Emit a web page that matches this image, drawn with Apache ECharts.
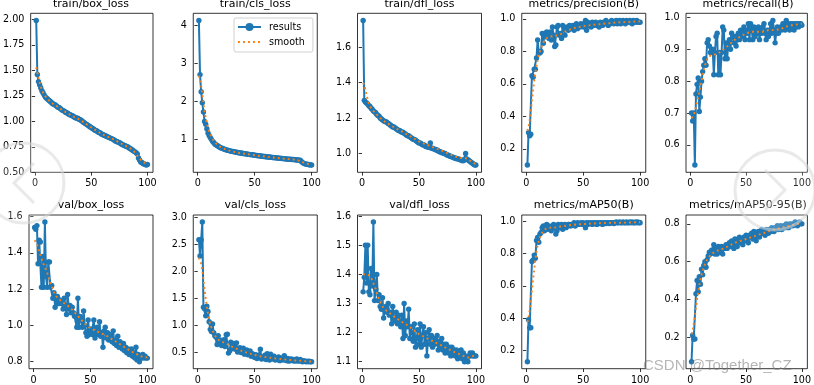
<!DOCTYPE html>
<html>
<head>
<meta charset="utf-8">
<script src="https://cdn.jsdelivr.net/npm/echarts@6/dist/echarts.min.js"></script>
<style>
html,body{margin:0;padding:0;background:#fff;}
#chart{width:814px;height:385px;}
</style>
</head>
<body>
<div id="chart"></div>
<script>
// ---------------- data ----------------
const titles = ['train/box_loss','train/cls_loss','train/dfl_loss','metrics/precision(B)','metrics/recall(B)',
                'val/box_loss','val/cls_loss','val/dfl_loss','metrics/mAP50(B)','metrics/mAP50-95(B)'];

const xTicks = [0, 50, 100];

const trainBox = [
1.99,1.46,1.39,1.36,1.33,1.30,1.28,1.26,1.24,1.23,
1.22,1.21,1.20,1.19,1.18,1.17,1.165,1.16,1.15,1.14,
1.135,1.13,1.12,1.11,1.105,1.10,1.09,1.085,1.08,1.07,
1.065,1.06,1.055,1.05,1.04,1.035,1.03,1.03,1.02,1.015,
1.01,1.00,0.99,0.985,0.975,0.97,0.96,0.955,0.945,0.94,
0.93,0.925,0.915,0.91,0.905,0.895,0.89,0.885,0.875,0.87,
0.865,0.86,0.855,0.85,0.845,0.84,0.835,0.83,0.825,0.82,
0.81,0.805,0.80,0.795,0.79,0.785,0.775,0.77,0.765,0.76,
0.755,0.75,0.745,0.735,0.73,0.72,0.715,0.705,0.70,0.69,
0.68,0.64,0.62,0.60,0.595,0.585,0.58,0.575,0.57,0.575];

const trainCls = [
4.12,2.70,2.25,1.96,1.72,1.47,1.40,1.28,1.17,1.10,
1.05,1.00,0.95,0.92,0.88,0.86,0.84,0.82,0.80,0.78,
0.77,0.76,0.745,0.735,0.725,0.715,0.71,0.70,0.69,0.685,
0.68,0.675,0.665,0.66,0.655,0.65,0.645,0.64,0.635,0.63,
0.625,0.62,0.615,0.61,0.605,0.60,0.598,0.595,0.59,0.585,
0.58,0.575,0.57,0.568,0.565,0.56,0.555,0.552,0.55,0.545,
0.54,0.538,0.535,0.53,0.528,0.525,0.52,0.518,0.515,0.51,
0.508,0.505,0.50,0.498,0.495,0.49,0.488,0.485,0.482,0.48,
0.478,0.475,0.472,0.47,0.468,0.465,0.46,0.458,0.455,0.45,
0.42,0.39,0.375,0.36,0.35,0.345,0.34,0.335,0.33,0.325];

const trainDfl = [
1.75,1.30,1.29,1.285,1.28,1.27,1.265,1.255,1.25,1.24,
1.235,1.23,1.22,1.215,1.21,1.20,1.195,1.19,1.185,1.18,
1.18,1.175,1.17,1.165,1.16,1.155,1.15,1.15,1.145,1.14,
1.135,1.13,1.13,1.125,1.12,1.12,1.115,1.11,1.105,1.10,
1.10,1.095,1.09,1.085,1.08,1.08,1.075,1.07,1.065,1.06,
1.06,1.055,1.05,1.05,1.045,1.04,1.04,1.035,1.035,1.06,
1.03,1.03,1.025,1.025,1.02,1.02,1.015,1.01,1.01,1.005,
1.005,1.00,1.00,0.995,0.99,0.99,0.985,0.985,0.98,0.98,
0.975,0.975,0.97,0.97,0.97,0.965,0.965,0.96,0.96,0.965,
1.00,0.97,0.965,0.96,0.955,0.95,0.945,0.94,0.935,0.935];

const precision = [
0.10,0.30,0.28,0.29,0.65,0.64,0.69,0.69,0.76,0.87,
0.80,0.79,0.80,0.91,0.85,0.91,0.89,0.92,0.90,0.88,
0.92,0.87,0.95,0.90,0.83,0.84,0.95,0.96,0.90,0.91,
0.88,0.96,0.95,0.90,0.94,0.95,0.93,0.96,0.95,0.94,
0.96,0.93,0.95,0.97,0.94,0.96,0.95,0.97,0.96,0.95,
0.97,0.99,0.93,0.98,0.96,0.97,0.95,0.98,0.96,0.97,
0.98,0.96,0.97,0.95,0.98,0.97,0.96,0.98,0.97,0.99,
0.97,0.96,0.98,0.97,0.99,0.98,0.97,0.98,0.99,0.97,
0.98,0.99,0.97,0.98,0.99,0.98,0.97,0.99,0.98,0.98,
0.99,0.98,0.97,0.99,0.98,0.98,0.99,0.98,0.98,0.98];

const recall = [
0.70,0.675,0.70,0.537,0.76,0.79,0.81,0.705,0.75,0.80,
0.83,0.85,0.87,0.85,0.92,0.93,0.91,0.89,0.89,0.90,
0.82,0.89,0.94,0.95,0.82,0.89,0.82,0.89,0.97,0.96,
0.87,0.92,0.87,0.92,0.93,0.90,0.95,0.94,0.92,0.94,
0.91,0.93,0.95,0.93,0.96,0.94,0.95,0.97,0.93,0.96,
0.95,0.98,0.93,0.98,0.96,0.93,0.97,0.94,0.96,0.95,
0.97,0.93,0.96,0.95,0.97,0.98,0.95,0.93,0.96,0.94,
0.96,0.98,0.95,0.99,0.96,0.92,0.95,0.97,0.95,0.96,
0.97,0.96,0.98,0.97,0.96,0.99,0.97,0.98,0.96,0.98,
0.97,0.98,0.96,0.98,0.97,0.98,0.97,0.98,0.98,0.975];

const valBox = [
1.54,1.53,1.55,1.34,1.47,1.46,1.21,1.38,1.21,1.57,
1.27,1.21,1.35,1.35,1.21,1.22,1.15,1.18,1.10,1.15,
1.16,1.12,1.14,1.13,1.12,1.09,1.15,1.11,1.06,1.17,
1.09,1.11,1.07,1.10,1.07,1.05,1.06,0.99,1.15,0.99,
1.05,1.03,0.99,1.08,1.00,0.96,0.94,1.03,0.95,0.98,
0.96,0.95,1.03,0.93,0.96,0.99,0.95,1.02,0.94,0.96,
0.88,0.97,0.99,0.93,0.96,0.92,0.95,0.93,0.91,0.97,
0.90,0.92,0.89,0.94,0.88,0.91,0.90,0.87,0.90,0.86,
0.88,0.85,0.87,0.84,0.86,0.87,0.83,0.85,0.82,0.88,
0.81,0.84,0.80,0.83,0.82,0.84,0.82,0.83,0.82,0.82];

const valCls = [
2.58,2.28,2.58,2.91,1.33,1.30,1.17,1.35,1.25,1.06,
0.92,0.88,1.02,0.86,0.80,0.78,0.64,0.80,0.65,0.72,
0.62,0.70,0.73,0.60,0.82,0.83,0.48,0.52,0.68,0.56,
0.62,0.66,0.55,0.67,0.50,0.54,0.58,0.49,0.52,0.57,
0.46,0.50,0.54,0.45,0.48,0.52,0.42,0.47,0.44,0.40,
0.45,0.38,0.43,0.42,0.55,0.37,0.41,0.38,0.44,0.36,
0.47,0.40,0.35,0.46,0.39,0.37,0.42,0.35,0.38,0.36,
0.41,0.34,0.37,0.39,0.35,0.43,0.36,0.34,0.38,0.33,
0.36,0.37,0.34,0.36,0.33,0.35,0.37,0.33,0.34,0.36,
0.33,0.32,0.34,0.33,0.32,0.33,0.32,0.33,0.32,0.32];

const valDfl = [
1.34,1.39,1.50,1.37,1.50,1.34,1.33,1.42,1.36,1.58,
1.31,1.35,1.40,1.31,1.33,1.29,1.28,1.32,1.25,1.28,
1.29,1.27,1.30,1.26,1.27,1.23,1.29,1.25,1.24,1.27,
1.23,1.26,1.24,1.22,1.26,1.18,1.30,1.19,1.24,1.22,
1.28,1.18,1.22,1.20,1.17,1.23,1.15,1.18,1.21,1.16,
1.23,1.15,1.19,1.22,1.16,1.20,1.12,1.18,1.21,1.16,
1.19,1.15,1.18,1.16,1.17,1.19,1.14,1.17,1.15,1.18,
1.14,1.16,1.13,1.16,1.14,1.13,1.15,1.12,1.15,1.13,
1.14,1.12,1.14,1.11,1.13,1.12,1.14,1.11,1.13,1.10,
1.12,1.11,1.10,1.12,1.13,1.12,1.13,1.12,1.12,1.12];

const mAP50 = [
0.13,0.39,0.34,0.34,0.75,0.76,0.79,0.77,0.88,0.90,
0.87,0.92,0.93,0.96,0.97,0.94,0.97,0.98,0.95,0.97,
0.96,0.94,0.97,0.98,0.96,0.92,0.94,0.98,0.97,0.96,
0.98,0.95,0.97,0.98,0.96,0.97,0.98,0.98,0.97,0.98,
0.98,0.99,0.97,0.98,0.99,0.98,0.985,0.99,0.98,0.99,
0.985,0.96,0.99,0.98,0.99,0.985,0.99,0.98,0.99,0.985,
0.99,0.98,0.99,0.985,0.99,0.99,0.98,0.99,0.99,0.985,
0.99,0.99,0.985,0.99,0.99,0.99,0.985,0.99,0.995,0.99,
0.99,0.995,0.99,0.99,0.995,0.99,0.99,0.995,0.99,0.99,
0.995,0.99,0.995,0.99,0.99,0.995,0.99,0.995,0.99,0.99];

const mAP5095 = [
0.07,0.21,0.19,0.19,0.43,0.50,0.44,0.52,0.48,0.56,
0.53,0.58,0.60,0.57,0.61,0.63,0.65,0.64,0.66,0.65,
0.69,0.64,0.67,0.64,0.68,0.66,0.65,0.68,0.64,0.67,
0.67,0.69,0.67,0.68,0.70,0.68,0.71,0.69,0.67,0.72,
0.70,0.68,0.71,0.73,0.70,0.72,0.69,0.73,0.71,0.74,
0.72,0.70,0.74,0.73,0.75,0.72,0.76,0.73,0.71,0.74,
0.76,0.73,0.75,0.77,0.75,0.76,0.74,0.77,0.76,0.75,
0.77,0.76,0.78,0.77,0.76,0.78,0.77,0.79,0.77,0.78,
0.79,0.77,0.78,0.79,0.78,0.80,0.79,0.78,0.80,0.79,
0.80,0.79,0.80,0.81,0.80,0.79,0.80,0.81,0.80,0.80];

// smoothed curves (read at these epochs)
const smoothEpochs = [1,2,3,4,5,6,7,8,9,10,12,14,16,18,20,25,30,35,40,45,50,55,60,65,70,75,80,85,88,90,92,94,96,98,100];

const trainBoxSmooth  = [1.53,1.48,1.43,1.385,1.345,1.31,1.285,1.265,1.248,1.233,1.21,1.19,1.172,1.158,1.142,1.105,1.072,1.042,1.015,0.977,0.94,0.905,0.872,0.846,0.822,0.792,0.762,0.732,0.705,0.675,0.648,0.622,0.603,0.59,0.585];
const trainClsSmooth  = [2.67,2.57,2.40,2.18,1.95,1.74,1.56,1.42,1.31,1.21,1.07,0.97,0.895,0.84,0.80,0.73,0.685,0.652,0.628,0.605,0.582,0.563,0.545,0.527,0.511,0.495,0.481,0.468,0.45,0.43,0.405,0.38,0.36,0.345,0.338];
const trainDflSmooth  = [1.40,1.385,1.36,1.33,1.305,1.283,1.267,1.256,1.247,1.24,1.226,1.213,1.2,1.19,1.18,1.16,1.141,1.125,1.106,1.088,1.068,1.054,1.043,1.028,1.017,1.002,0.988,0.977,0.975,0.975,0.972,0.964,0.955,0.946,0.942];
const precisionSmooth = [0.31,0.333,0.375,0.434,0.50,0.56,0.62,0.67,0.71,0.745,0.80,0.84,0.868,0.882,0.89,0.895,0.905,0.925,0.94,0.948,0.955,0.96,0.965,0.968,0.972,0.975,0.978,0.98,0.98,0.981,0.982,0.983,0.984,0.985,0.985];
const recallSmooth    = [0.684,0.687,0.694,0.704,0.72,0.735,0.75,0.765,0.785,0.80,0.835,0.86,0.875,0.88,0.882,0.887,0.90,0.915,0.93,0.94,0.95,0.955,0.955,0.955,0.96,0.96,0.962,0.97,0.973,0.975,0.975,0.977,0.978,0.979,0.98];
const valBoxSmooth    = [1.47,1.46,1.45,1.43,1.41,1.39,1.37,1.35,1.335,1.32,1.29,1.255,1.215,1.185,1.16,1.13,1.11,1.08,1.045,1.01,0.985,0.97,0.955,0.94,0.92,0.90,0.88,0.86,0.85,0.845,0.835,0.83,0.828,0.825,0.824];
const valClsSmooth    = [2.25,2.22,2.14,2.01,1.85,1.66,1.49,1.34,1.21,1.09,0.95,0.85,0.78,0.73,0.70,0.66,0.60,0.555,0.51,0.475,0.445,0.42,0.405,0.39,0.375,0.365,0.355,0.345,0.34,0.34,0.335,0.33,0.327,0.325,0.322];
const valDflSmooth    = [1.40,1.40,1.40,1.40,1.40,1.40,1.395,1.39,1.38,1.37,1.35,1.325,1.305,1.29,1.28,1.265,1.25,1.237,1.225,1.21,1.195,1.185,1.175,1.165,1.155,1.145,1.135,1.127,1.122,1.118,1.115,1.115,1.118,1.12,1.12];
const mAP50Smooth     = [0.376,0.40,0.448,0.512,0.575,0.64,0.70,0.76,0.81,0.85,0.90,0.93,0.948,0.955,0.96,0.96,0.967,0.972,0.977,0.98,0.982,0.984,0.986,0.988,0.989,0.99,0.99,0.991,0.991,0.992,0.992,0.992,0.993,0.993,0.993];
const mAP5095Smooth   = [0.215,0.235,0.27,0.31,0.355,0.40,0.44,0.475,0.505,0.53,0.57,0.60,0.62,0.635,0.645,0.66,0.67,0.685,0.70,0.71,0.72,0.73,0.74,0.75,0.76,0.77,0.777,0.785,0.788,0.79,0.795,0.797,0.80,0.80,0.80];

// y tick labels per panel
const yTicks = [
  [0.50,0.75,1.00,1.25,1.50,1.75,2.00],
  [1,2,3,4],
  [1.0,1.2,1.4,1.6],
  [0.2,0.4,0.6,0.8,1.0],
  [0.6,0.7,0.8,0.9,1.0],
  [0.8,1.0,1.2,1.4,1.6],
  [0.5,1.0,1.5,2.0,2.5,3.0],
  [1.1,1.2,1.3,1.4,1.5,1.6],
  [0.2,0.4,0.6,0.8,1.0],
  [0.2,0.4,0.6,0.8]
];
const yDecimals = [2,0,1,1,1,1,1,1,1,1];

// ---------------- build ----------------
const results = [trainBox,trainCls,trainDfl,precision,recall,valBox,valCls,valDfl,mAP50,mAP5095];
const smooths = [trainBoxSmooth,trainClsSmooth,trainDflSmooth,precisionSmooth,recallSmooth,
                 valBoxSmooth,valClsSmooth,valDflSmooth,mAP50Smooth,mAP5095Smooth];
const epochs = trainBox.map((_, i) => i + 1);

const colLeft = [29, 193.25, 357.5, 521.75, 686];
const rowTop = [13.3, 215];
const rowH = [159, 158.3];
const plotW = 124;
const FONT = 'DejaVu Sans';
const BLUE = '#1f77b4', ORANGE = '#ff7f0e';

const grids = [], xAxes = [], yAxes = [], series = [], graphics = [];
for (let p = 0; p < 10; p++) {
  const r = Math.floor(p / 5), c = p % 5;
  grids.push({left: colLeft[c], top: rowTop[r], width: plotW, height: rowH[r],
              show: true, borderColor: '#000', borderWidth: 0.8, backgroundColor: 'transparent'});
  const all = results[p].concat(smooths[p]);
  const lo = Math.min(...all), hi = Math.max(...all), pad = (hi - lo) * 0.05;
  const xlo = epochs[0], xhi = epochs[epochs.length - 1], xpad = (xhi - xlo) * 0.05;
  xAxes.push({type: 'value', gridIndex: p, min: xlo - xpad, max: xhi + xpad,
    axisLine: {show: false}, splitLine: {show: false},
    axisTick: {show: true, length: 3.3, lineStyle: {color: '#000', width: 0.8}, customValues: xTicks},
    axisLabel: {customValues: xTicks, fontSize: 9.6, fontFamily: FONT, color: '#000', margin: 6.3}});
  const dec = yDecimals[p];
  yAxes.push({type: 'value', gridIndex: p, min: lo - pad, max: hi + pad,
    axisLine: {show: false}, splitLine: {show: false},
    axisTick: {show: true, length: 3.3, lineStyle: {color: '#000', width: 0.8}, customValues: yTicks[p]},
    axisLabel: {customValues: yTicks[p], fontSize: 9.6, fontFamily: FONT, color: '#000', margin: 6.3,
                formatter: v => Number(v).toFixed(dec)}});
  series.push({name: 'results', type: 'line', xAxisIndex: p, yAxisIndex: p,
    data: epochs.map((e, i) => [e, results[p][i]]),
    symbol: 'circle', symbolSize: 5.4, showSymbol: true,
    lineStyle: {color: BLUE, width: 2}, itemStyle: {color: BLUE},
    emphasis: {disabled: true}, z: 2, animation: false});
  series.push({name: 'smooth', type: 'line', xAxisIndex: p, yAxisIndex: p,
    data: smoothEpochs.map((e, i) => [e, smooths[p][i]]),
    symbol: 'none', showSymbol: false,
    lineStyle: {color: ORANGE, width: 1.9, type: [1.9, 3.1], cap: 'butt'}, itemStyle: {color: ORANGE},
    emphasis: {disabled: true}, z: 3, animation: false});
  graphics.push({type: 'text', x: colLeft[c] + plotW / 2, y: r === 0 ? 3.8 : 205.3, z: 10,
    style: {text: titles[p], font: '11px "DejaVu Sans"', fill: '#000',
            align: 'center', verticalAlign: 'middle', textAlign: 'center', textVerticalAlign: 'middle'}});
}
// faint page watermarks (circular arrows) and the CSDN signature
const wmStroke = 'rgba(215,215,215,0.55)';
graphics.push({type: 'circle', shape: {cx: 24, cy: 183, r: 40}, z: 30, silent: true,
  style: {fill: 'rgba(255,255,255,0.18)', stroke: wmStroke, lineWidth: 3}});
graphics.push({type: 'polyline', shape: {points: [[34, 163], [14, 183], [34, 203]]}, z: 30, silent: true,
  style: {fill: null, stroke: wmStroke, lineWidth: 3}});
graphics.push({type: 'circle', shape: {cx: 775, cy: 190, r: 40}, z: 30, silent: true,
  style: {fill: 'rgba(255,255,255,0.18)', stroke: wmStroke, lineWidth: 3}});
graphics.push({type: 'polyline', shape: {points: [[765, 170], [785, 190], [765, 210]]}, z: 30, silent: true,
  style: {fill: null, stroke: wmStroke, lineWidth: 3}});
graphics.push({type: 'text', x: 643, y: 366, z: 31,
  style: {text: 'CSDN @Together_CZ', font: '15px "Liberation Sans"', fill: 'rgba(120,120,120,0.55)',
          align: 'left', verticalAlign: 'middle', textAlign: 'left', textVerticalAlign: 'middle'}});

const chart = echarts.init(document.getElementById('chart'), null, {renderer: 'canvas'});
chart.setOption({
  animation: false,
  backgroundColor: '#fff',
  grid: grids, xAxis: xAxes, yAxis: yAxes, series: series, graphic: graphics,
  legend: {
    data: [
      {name: 'results'},
      {name: 'smooth', itemStyle: {opacity: 0, borderWidth: 0}, lineStyle: {color: ORANGE, width: 1.9, type: [1.9, 3.1]}}
    ],
    orient: 'vertical', left: 234, top: 18,
    itemWidth: 23, itemHeight: 10, itemGap: 5, padding: [4, 8, 5, 3],
    borderColor: '#d0d0d0', borderWidth: 1, borderRadius: 2, backgroundColor: '#fff',
    textStyle: {fontSize: 9.6, fontFamily: FONT, color: '#000', padding: [0, 0, 0, 3]},
    selectedMode: false}
});
</script>
</body>
</html>
